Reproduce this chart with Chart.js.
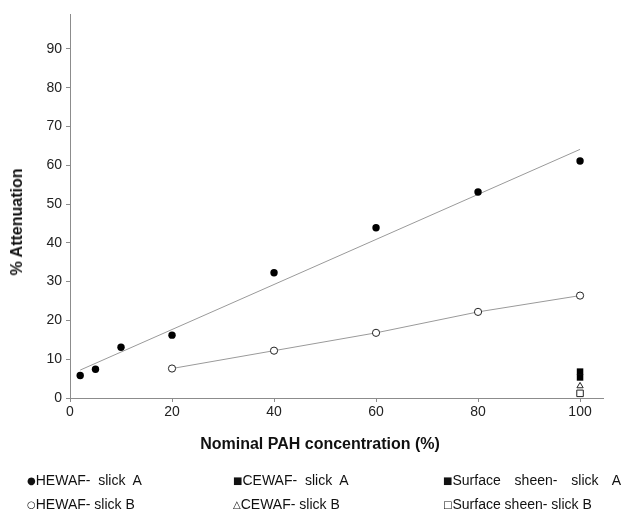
<!DOCTYPE html>
<html>
<head>
<meta charset="utf-8">
<script src="https://cdn.jsdelivr.net/npm/chart.js@4.4.1/dist/chart.umd.min.js"></script>
<style>
  body { margin: 0; background: #fff; }
  #wrap { position: relative; width: 623px; height: 512px; font-family: "Liberation Sans", Arial, sans-serif; color: #111; }
  #chart { position: absolute; left: 0; top: 0; }
  .title { position: absolute; font-weight: bold; font-size: 16px; white-space: nowrap; }
  #xTitle { left: 320px; top: 444px; transform: translate(-50%, -50%); }
  #yTitle { left: 17px; top: 222px; transform: translate(-50%, -50%) rotate(-90deg); }
  .leg { position: absolute; font-size: 14px; line-height: 14px; white-space: pre; }
  .leg .sym { font-family: "DejaVu Sans", sans-serif; font-size: 10px; position: relative; top: -1px; }
</style>
</head>
<body>
<div id="wrap">
  <canvas id="chart" width="623" height="512"></canvas>
  <div id="xTitle" class="title">Nominal PAH concentration (%)</div>
  <div id="yTitle" class="title">% Attenuation</div>
</div>
<script>
// HEWAF slick A (filled circles) and its fitted line
const xA = [2, 5, 10, 20, 40, 60, 80, 100];
const hewafA = [5.8, 7.4, 13.1, 16.2, 32.3, 43.9, 53.1, 61.1];
const trendX = [2, 100];
const trendY = [7.2, 64.1];

// HEWAF slick B (open circles)
const xB = [20, 40, 60, 80, 100];
const hewafB = [7.6, 12.2, 16.8, 22.2, 26.4];

// single points at 100 %
const xSingle = [100];
const cewafA = [6.8];
const sheenA = [5.3];
const cewafB = [3.1];
const sheenB = [1.2];

const xTicks = [0, 20, 40, 60, 80, 100];
const yTicks = [0, 10, 20, 30, 40, 50, 60, 70, 80, 90];

const legendItems = [
  { sym: "\u25CF", text: "HEWAF-  slick  A", left: 27, top: 473 },
  { sym: "\u25CB", text: "HEWAF- slick B", left: 27, top: 497 },
  { sym: "\u25A0", text: "CEWAF-  slick  A", left: 233, top: 473 },
  { sym: "\u25B3", text: "CEWAF- slick B", left: 233, top: 497 },
  { sym: "\u25A0", text: "Surface sheen- slick A", left: 443, top: 473, spacing: 10 },
  { sym: "\u25A1", text: "Surface sheen- slick B", left: 443, top: 497 }
];

const pts = (xs, ys) => xs.map((x, i) => ({ x: x, y: ys[i] }));

const wrap = document.getElementById("wrap");
legendItems.forEach((it) => {
  const d = document.createElement("div");
  d.className = "leg";
  d.style.left = it.left + "px";
  d.style.top = it.top + "px";
  if (it.spacing) d.style.wordSpacing = it.spacing + "px";
  d.innerHTML = '<span class="sym">' + it.sym + "</span>" + it.text;
  wrap.appendChild(d);
});

const axisColor = "#8c8c8c";
const tickFont = { family: "'Liberation Sans', Arial, sans-serif", size: 14 };

new Chart(document.getElementById("chart"), {
  type: "scatter",
  data: {
    datasets: [
      {
        label: "HEWAF- slick A fit",
        data: pts(trendX, trendY),
        showLine: true,
        borderColor: "#9a9a9a",
        borderWidth: 1,
        pointRadius: 0,
        order: 5
      },
      {
        label: "HEWAF- slick A",
        data: pts(xA, hewafA),
        pointStyle: "circle",
        pointRadius: 3.7,
        backgroundColor: "#000",
        borderColor: "#000",
        borderWidth: 0,
        order: 1
      },
      {
        label: "HEWAF- slick B",
        data: pts(xB, hewafB),
        showLine: true,
        borderColor: "#9a9a9a",
        borderWidth: 1,
        pointStyle: "circle",
        pointRadius: 3.6,
        pointBackgroundColor: "#fff",
        pointBorderColor: "#222",
        pointBorderWidth: 1,
        order: 2
      },
      {
        label: "CEWAF- slick A",
        data: pts(xSingle, cewafA),
        pointStyle: "rect",
        pointRadius: 4.6,
        backgroundColor: "#000",
        borderColor: "#000",
        borderWidth: 0
      },
      {
        label: "Surface sheen- slick A",
        data: pts(xSingle, sheenA),
        pointStyle: "rect",
        pointRadius: 4.6,
        backgroundColor: "#000",
        borderColor: "#000",
        borderWidth: 0
      },
      {
        label: "CEWAF- slick B",
        data: pts(xSingle, cewafB),
        pointStyle: "triangle",
        pointRadius: 3.6,
        backgroundColor: "#fff",
        borderColor: "#222",
        borderWidth: 1
      },
      {
        label: "Surface sheen- slick B",
        data: pts(xSingle, sheenB),
        pointStyle: "rect",
        pointRadius: 4.6,
        backgroundColor: "#fff",
        borderColor: "#222",
        borderWidth: 1
      }
    ]
  },
  options: {
    responsive: false,
    animation: false,
    layout: { padding: { top: 14, right: 20, left: 0, bottom: 0 } },
    plugins: { legend: { display: false }, tooltip: { enabled: false } },
    scales: {
      x: {
        type: "linear",
        min: 0,
        max: 104.5,
        afterBuildTicks: (s) => { s.ticks = xTicks.map((v) => ({ value: v })); },
        afterFit: (s) => { s.height = 114; },
        border: { color: axisColor, width: 1 },
        grid: { drawOnChartArea: false, color: axisColor, tickLength: 4 },
        ticks: { color: "#222", font: tickFont, padding: 2, maxRotation: 0 }
      },
      y: {
        type: "linear",
        min: 0,
        max: 99,
        afterBuildTicks: (s) => { s.ticks = yTicks.map((v) => ({ value: v })); },
        afterFit: (s) => { s.width = 70; },
        border: { color: axisColor, width: 1 },
        grid: { drawOnChartArea: false, color: axisColor, tickLength: 4 },
        ticks: { color: "#222", font: tickFont, padding: 4 }
      }
    }
  }
});
</script>
</body>
</html>
